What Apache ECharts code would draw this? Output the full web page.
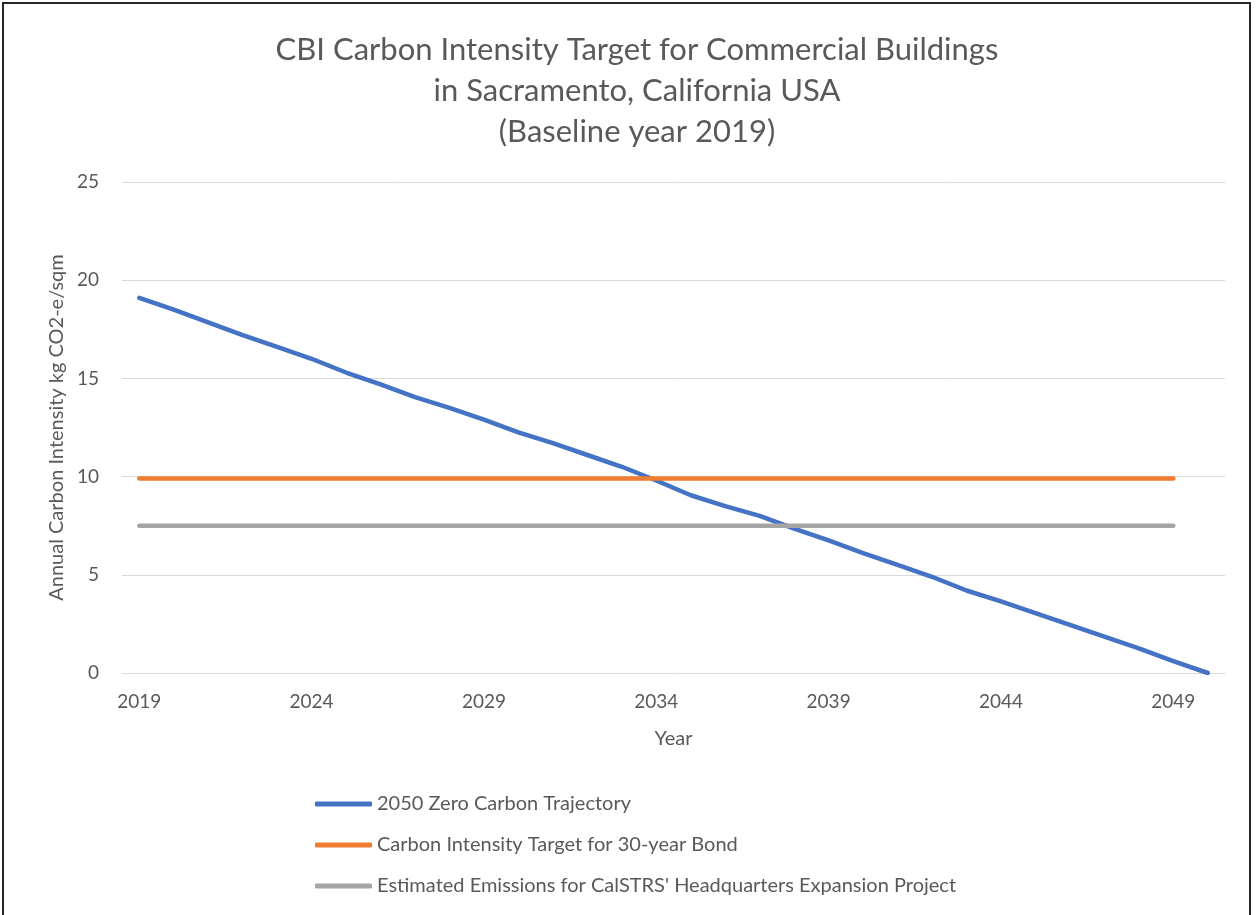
<!DOCTYPE html>
<html>
<head>
<meta charset="utf-8">
<script src="https://cdn.jsdelivr.net/npm/echarts@6/dist/echarts.min.js"></script>
<style>
html,body{margin:0;padding:0;background:#fff;}
#chart{position:absolute;left:0;top:0;width:1257px;height:915px;}
#frame{position:absolute;left:2px;top:2px;width:1249px;height:930px;border:2px solid #262626;pointer-events:none;box-sizing:border-box;}
</style>
</head>
<body>
<div id="chart"></div>
<div id="frame"></div>
<script>
const years = [];
for (let y = 2019; y <= 2050; y++) years.push(String(y));
const zeroCarbon = [19.1, 18.5, 17.85, 17.2, 16.6, 16.0, 15.3, 14.7, 14.05, 13.5, 12.9, 12.25, 11.7, 11.1, 10.5, 9.8, 9.05, 8.5, 8.0, 7.35, 6.75, 6.1, 5.5, 4.9, 4.2, 3.65, 3.05, 2.45, 1.85, 1.25, 0.6, 0];
const bondTarget = [9.9,9.9,9.9,9.9,9.9,9.9,9.9,9.9,9.9,9.9,9.9,9.9,9.9,9.9,9.9,9.9,9.9,9.9,9.9,9.9,9.9,9.9,9.9,9.9,9.9,9.9,9.9,9.9,9.9,9.9,9.9,null];
const calstrs = [7.5,7.5,7.5,7.5,7.5,7.5,7.5,7.5,7.5,7.5,7.5,7.5,7.5,7.5,7.5,7.5,7.5,7.5,7.5,7.5,7.5,7.5,7.5,7.5,7.5,7.5,7.5,7.5,7.5,7.5,7.5,null];
const seriesNames = ['2050 Zero Carbon Trajectory', 'Carbon Intensity Target for 30-year Bond', "Estimated Emissions for CalSTRS' Headquarters Expansion Project"];
const colors = ['#4472C4', '#ED7D31', '#A5A5A5'];
const font = 'Lato, "Open Sans", sans-serif';

const chart = echarts.init(document.getElementById('chart'));
function mk(name, data, color) {
  return {
    name: name, type: 'line', data: data, showSymbol: false, symbol: 'none',
    lineStyle: { color: color, width: 4.5, cap: 'round', join: 'round' },
    itemStyle: { color: color },
    animation: false
  };
}
chart.setOption({
  animation: false,
  textStyle: { fontFamily: font },
  title: {
    text: 'CBI Carbon Intensity Target for Commercial Buildings\nin Sacramento, California USA\n(Baseline year 2019)',
    left: 632, top: 24, textAlign: 'center',
    textStyle: { fontFamily: font, fontSize: 31, fontWeight: 'normal', color: '#595959', lineHeight: 41 }
  },
  grid: { left: 122, right: 32, top: 182, bottom: 242, containLabel: false },
  xAxis: {
    type: 'category', data: years, boundaryGap: true,
    name: 'Year', nameLocation: 'middle', nameGap: 56,
    nameTextStyle: { fontFamily: font, fontSize: 20, color: '#595959' },
    axisLine: { show: true, lineStyle: { color: '#D9D9D9', width: 1 } },
    axisTick: { show: false },
    axisLabel: { interval: 4, fontFamily: font, fontSize: 19, color: '#595959', margin: 19 },
    splitLine: { show: false }
  },
  yAxis: {
    type: 'value', min: 0, max: 25, interval: 5,
    name: 'Annual Carbon Intensity kg CO2-e/sqm', nameLocation: 'middle', nameGap: 54,
    nameTextStyle: { fontFamily: font, fontSize: 20, color: '#595959' },
    axisLine: { show: false }, axisTick: { show: false },
    axisLabel: { fontFamily: font, fontSize: 19, color: '#595959', margin: 23 },
    splitLine: { lineStyle: { color: '#D9D9D9', width: 1 } }
  },
  legend: {
    orient: 'vertical', left: 310, top: 789,
    itemWidth: 57, itemHeight: 5, itemGap: 21,
    icon: 'roundRect',
    textStyle: { fontFamily: font, fontSize: 20, color: '#595959' },
    data: seriesNames
  },
  series: [
    mk(seriesNames[0], zeroCarbon, colors[0]),
    mk(seriesNames[1], bondTarget, colors[1]),
    mk(seriesNames[2], calstrs, colors[2])
  ]
});
</script>
</body>
</html>
